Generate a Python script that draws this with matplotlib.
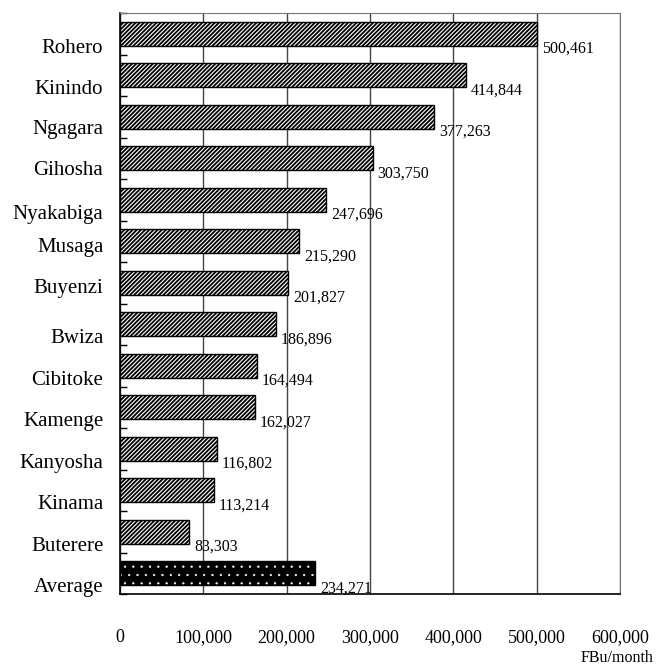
import numpy as np
import matplotlib.pyplot as plt
import matplotlib.transforms as mtransforms
from matplotlib.ticker import FuncFormatter

# average monthly household income per commune
communes = ["Rohero", "Kinindo", "Ngagara", "Gihosha", "Nyakabiga", "Musaga",
            "Buyenzi", "Bwiza", "Cibitoke", "Kamenge", "Kanyosha", "Kinama",
            "Buterere", "Average"]
income = [500461, 414844, 377263, 303750, 247696, 215290,
          201827, 186896, 164494, 162027, 116802, 113214,
          83303, 234271]

plt.rcParams['font.family'] = ['Liberation Serif', 'DejaVu Serif']


def hatch_lw(patches, lw):
    for p in patches:
        if hasattr(p, "set_hatch_linewidth"):
            p.set_hatch_linewidth(lw)


fig = plt.figure(figsize=(6.65, 6.68), dpi=100)
ax = fig.add_axes([120 / 665, 1 - 594 / 668, 500 / 665, 581 / 668])

y = np.arange(len(communes))
h = 0.58

# communes: hatched bars
plt.rcParams['hatch.linewidth'] = 1.3
bars = ax.barh(y[:-1], income[:-1], height=h, color="white", edgecolor="black",
               hatch="////////", linewidth=1.0, zorder=3)
hatch_lw(bars, 1.3)
# average: black bar with small white dots, outline drawn on top
plt.rcParams['hatch.linewidth'] = 0.4
avg = ax.barh(y[-1], income[-1], height=h, color="black", edgecolor="white",
              hatch="..", linewidth=0, zorder=3)
hatch_lw(avg, 0.4)
ax.barh(y[-1], income[-1], height=h, color="none", edgecolor="black",
        linewidth=1.0, zorder=4)

# value labels just below the bar end
for yi, v in zip(y, income):
    ax.text(v + 5500, yi + 0.36, f"{v:,}", va="center", ha="left",
            fontsize=11.5, zorder=5)

ax.set_xlim(0, 600000)
ax.set_ylim(len(communes) - 0.5, -0.5)
ax.set_xticks(np.arange(0, 600001, 100000))
ax.xaxis.set_major_formatter(FuncFormatter(lambda v, p: f"{int(v):,}"))
ax.tick_params(axis="x", length=0, pad=25, labelsize=13)
ax.grid(axis="x", color="#444444", linewidth=1.0, zorder=1)

ax.set_yticks(y)
ax.set_yticklabels(communes)
ax.set_yticks(np.arange(len(communes) + 1) - 0.5, minor=True)
ax.tick_params(axis="y", which="major", length=0, pad=12, labelsize=15)
ax.tick_params(axis="y", which="minor", direction="in", length=5, width=1)
# labels sit a little below their bars
drop = {"Ngagara": 17, "Gihosha": 17, "Musaga": 11, "Buyenzi": 10}
for lab in ax.get_yticklabels():
    d = drop.get(lab.get_text(), 19)
    lab.set_va("baseline")
    lab.set_transform(lab.get_transform() +
                      mtransforms.ScaledTranslation(0, -d / 100, fig.dpi_scale_trans))

for s in ("top", "right"):
    ax.spines[s].set_color("#777777")
for s in ("left", "bottom"):
    ax.spines[s].set_color("black")
    ax.spines[s].set_linewidth(1.2)

fig.text(653 / 665, 1 - 662 / 668, "FBu/month", ha="right", va="baseline",
         fontsize=11.5)

fig.savefig("out.png", dpi=100)
